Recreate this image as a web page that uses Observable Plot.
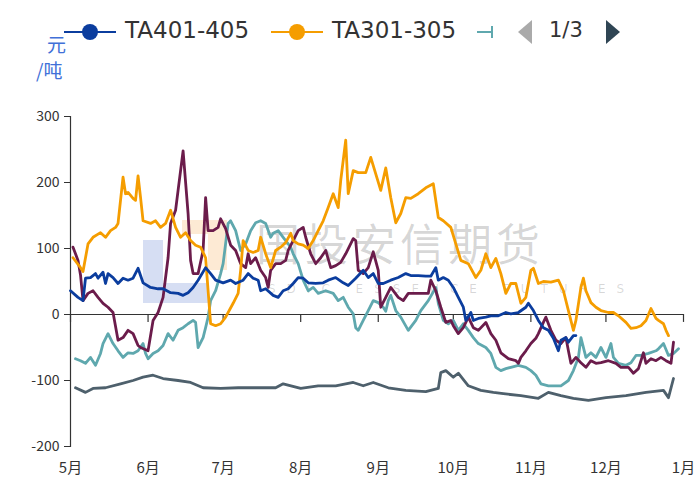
<!DOCTYPE html>
<html><head><meta charset="utf-8">
<script src="https://cdn.jsdelivr.net/npm/d3@7"></script>
<script src="https://cdn.jsdelivr.net/npm/@observablehq/plot@0.6"></script>
<style>
body{margin:0;background:#fff;}
#wrap{position:relative;width:695px;height:482px;font-family:"Noto Sans CJK SC","DejaVu Sans",sans-serif;}
#wm,#legend,#unit{position:absolute;left:0;top:0;width:695px;}
#wrap div{white-space:nowrap;}
#chart{position:absolute;left:0;top:0;}
</style></head>
<body>
<div id="wrap">
  <div id="wm"></div>
  <div id="chart"></div>
  <div id="legend"></div>
  <div id="unit"></div>
</div>
<script>
// Season axis: day offsets from May 1, values in 元/吨
const seriesNames = ["TA401-405", "TA301-305", "TA201-205", "TA101-105", "TA001-005"];
const seriesColors = ["#0b3d9e", "#f59d00", "#5fa8ae", "#6b1c4b", "#4e606c"];
const yTicks = [-200, -100, 0, 100, 200, 300];
const monthLabels = ["5月","6月","7月","8月","9月","10月","11月","12月","1月"];

const ta401_405 = [[0,36],[3,26],[5,21],[6,55],[8,56],[10,62],[11,55],[13,64],[14,47],[15,62],[17,56],[19,47],[21,55],[23,52],[25,55],[27,70],[29,48],[32,41],[35,39],[37,39],[40,33],[43,32],[45,29],[47,33],[49,41],[51,52],[54,71],[56,62],[58,52],[61,48],[64,52],[66,47],[69,52],[71,62],[73,55],[75,52],[76,36],[78,39],[81,29],[83,26],[85,36],[87,39],[89,47],[91,56],[93,55],[95,48],[98,47],[101,48],[103,52],[106,56],[109,48],[111,44],[114,55],[117,67],[119,56],[121,62],[123,47],[125,47],[128,52],[131,56],[134,62],[136,59],[139,59],[142,58],[144,58],[146,71],[147,52],[149,56],[151,52],[153,41],[155,26],[157,11],[158,-9],[160,3],[161,-9],[163,-6],[166,-4],[168,-2],[171,-2],[174,3],[176,1],[179,3],[182,11],[183,17],[185,6],[187,-9],[189,-20],[191,-24],[193,-36],[195,-55],[196,-39],[198,-35],[199,-42],[201,-32],[202,-32]];

const ta301_305 = [[1,86],[4,71],[5,65],[7,107],[9,117],[12,124],[14,117],[16,127],[18,132],[19,138],[21,208],[22,183],[23,185],[25,176],[26,173],[27,210],[28,177],[29,142],[32,138],[34,142],[36,132],[38,138],[40,158],[42,132],[44,117],[46,124],[48,112],[50,105],[52,102],[54,86],[56,-14],[58,-17],[60,-14],[62,-4],[65,17],[67,32],[68,67],[69,112],[71,97],[73,94],[75,97],[76,117],[78,92],[80,71],[82,97],[84,102],[86,109],[88,123],[89,112],[91,107],[93,105],[95,100],[97,112],[99,127],[101,142],[103,162],[105,183],[107,162],[108,203],[110,264],[111,183],[113,218],[115,215],[118,215],[120,238],[122,213],[124,188],[126,222],[128,177],[130,139],[132,153],[134,177],[136,176],[139,183],[142,192],[145,198],[147,147],[149,142],[152,132],[154,107],[156,82],[159,77],[162,56],[164,67],[166,92],[168,71],[170,85],[172,62],[174,32],[176,47],[178,47],[180,17],[182,26],[184,67],[185,70],[187,47],[189,50],[192,49],[195,52],[197,36],[199,6],[201,-24],[202,-9],[204,41],[205,55],[206,36],[208,18],[210,11],[212,6],[215,3],[217,3],[219,-2],[222,-12],[224,-21],[226,-20],[228,-17],[230,-9],[232,9],[234,-6],[235,-9],[237,-14],[238,-24],[239,-32]];

const ta201_205 = [[2,-67],[4,-70],[6,-74],[8,-65],[10,-77],[12,-59],[13,-44],[15,-29],[17,-44],[19,-55],[21,-65],[23,-58],[25,-59],[27,-55],[29,-44],[30,-59],[31,-67],[33,-59],[35,-55],[37,-47],[39,-29],[41,-39],[43,-24],[45,-20],[47,-14],[49,-9],[50,-12],[51,-50],[53,-35],[54,-20],[55,-4],[56,21],[58,36],[60,62],[61,77],[63,138],[64,142],[66,127],[67,112],[68,97],[70,107],[72,127],[74,139],[76,142],[78,138],[80,117],[81,123],[83,127],[85,117],[87,107],[88,102],[89,92],[91,77],[93,52],[95,36],[97,41],[99,32],[102,36],[105,32],[107,21],[109,26],[111,11],[113,1],[114,-20],[115,-24],[117,-9],[119,6],[121,21],[123,18],[125,11],[126,5],[127,21],[128,29],[130,6],[132,-4],[135,-24],[138,-9],[140,6],[143,21],[146,41],[147,17],[149,-9],[151,-14],[153,-9],[155,-24],[157,-14],[159,-24],[161,-35],[163,-44],[166,-50],[168,-59],[170,-80],[172,-85],[174,-82],[176,-80],[179,-77],[182,-80],[184,-85],[186,-92],[188,-105],[191,-108],[194,-108],[196,-108],[199,-100],[201,-85],[203,-65],[204,-35],[206,-65],[208,-58],[210,-65],[212,-50],[214,-65],[216,-44],[217,-65],[219,-74],[222,-77],[224,-73],[226,-62],[228,-62],[231,-59],[234,-55],[235,-52],[237,-44],[239,-62],[241,-59],[243,-52]];

const ta101_105 = [[1,102],[3,82],[4,60],[5,21],[7,32],[9,36],[11,26],[13,17],[15,11],[17,3],[19,-39],[21,-35],[23,-24],[25,-29],[27,-47],[28,-50],[31,-55],[33,-9],[35,3],[37,26],[39,86],[40,138],[42,158],[43,188],[45,248],[47,153],[48,82],[49,62],[51,62],[53,97],[54,177],[55,127],[57,127],[59,132],[60,145],[62,130],[64,105],[66,97],[68,77],[70,71],[71,92],[72,77],[74,86],[76,67],[78,56],[79,41],[80,67],[82,77],[84,77],[86,82],[87,97],[89,112],[91,127],[93,132],[94,117],[96,92],[98,77],[100,86],[102,97],[104,71],[106,74],[108,79],[110,92],[113,115],[114,112],[115,67],[117,62],[119,71],[121,95],[123,67],[124,11],[126,26],[128,41],[131,26],[133,21],[135,32],[139,32],[143,32],[144,52],[146,36],[148,11],[150,-12],[152,-9],[153,-17],[155,-29],[157,-20],[159,-4],[161,-20],[163,-24],[166,-12],[168,-29],[170,-39],[172,-58],[175,-67],[178,-70],[179,-74],[180,-65],[182,-55],[184,-44],[186,-36],[187,-29],[189,-12],[190,-4],[192,-24],[194,-39],[196,-44],[198,-35],[199,-55],[200,-74],[202,-65],[204,-73],[206,-80],[208,-70],[210,-74],[212,-73],[215,-70],[218,-74],[220,-80],[223,-80],[225,-89],[227,-82],[229,-58],[230,-74],[232,-67],[234,-70],[236,-65],[238,-70],[240,-74],[241,-42]];

const ta001_005 = [[2,-111],[6,-118],[9,-112],[14,-111],[20,-105],[25,-100],[29,-95],[33,-92],[37,-97],[43,-100],[48,-103],[53,-111],[60,-112],[67,-111],[74,-111],[82,-111],[85,-105],[92,-112],[99,-108],[106,-108],[113,-103],[117,-108],[121,-103],[127,-111],[134,-115],[142,-117],[147,-112],[148,-88],[150,-85],[153,-95],[155,-89],[159,-108],[164,-115],[169,-118],[173,-120],[180,-123],[187,-127],[191,-118],[196,-123],[201,-127],[207,-130],[214,-126],[222,-123],[230,-118],[237,-115],[239,-126],[241,-97]];

const seriesData = [ta401_405, ta301_305, ta201_205, ta101_105, ta001_005];
const dayToDate = d => new Date(Date.UTC(2023, 4, 1 + d));
const rows = [];
seriesData.forEach((arr, i) => arr.forEach(([d, v]) => rows.push({date: dayToDate(d), value: v, series: seriesNames[i]})));
const months = monthLabels.map((_, i) => new Date(Date.UTC(2023, 4 + i, 1)));
const drawOrder = [4, 2, 3, 1, 0];

const chart = Plot.plot({
  width: 695, height: 482,
  marginTop: 116, marginBottom: 36, marginLeft: 70, marginRight: 12,
  style: {background: "transparent", fontFamily: '"Noto Sans CJK SC","DejaVu Sans",sans-serif', color: "#333"},
  x: {type: "utc", domain: [months[0], months[months.length - 1]]},
  y: {domain: [-200, 300]},
  color: {domain: seriesNames, range: seriesColors},
  marks: [
    Plot.ruleY([0], {stroke: "#333", strokeWidth: 1.2}),
    Plot.ruleX(months, {x: d => d, y1: 0, y2: -12, stroke: "#333", strokeWidth: 1.2}),
    Plot.frame({anchor: "left", stroke: "#333", strokeWidth: 1.2}),
    Plot.axisY({ticks: yTicks, tickSize: 6, tickPadding: 5, fontSize: 14, tickFormat: d => String(d), label: null, stroke: "#333"}),
    Plot.axisX({ticks: months, tickSize: 0, tickPadding: 16, fontSize: 15, tickFormat: (d, i) => monthLabels[i], label: null}),
    ...drawOrder.map(i => Plot.line(rows.filter(r => r.series === seriesNames[i]), {
      x: "date", y: "value", stroke: seriesColors[i], strokeWidth: 2.8, strokeLinejoin: "round"
    }))
  ]
});
document.getElementById("chart").appendChild(chart);

// watermark
document.getElementById("wm").innerHTML = `
<div style="position:absolute;left:143px;top:240px;width:20px;height:63px;background:rgba(70,105,200,0.22)"></div>
<div style="position:absolute;left:163px;top:283px;width:45px;height:20px;background:rgba(70,105,200,0.22)"></div>
<div style="position:absolute;left:182px;top:220px;width:45px;height:14px;background:rgba(245,160,60,0.22)"></div>
<div style="position:absolute;left:208px;top:234px;width:19px;height:36px;background:rgba(245,160,60,0.22)"></div>
<div style="position:absolute;left:256px;top:210px;font-size:44px;letter-spacing:4px;color:rgba(0,0,0,0.16);font-family:'Noto Sans CJK SC'">国投安信期货</div>
<div style="position:absolute;left:268px;top:282px;font-size:12px;letter-spacing:11px;color:rgba(0,0,0,0.16);font-family:'DejaVu Sans'">SDIC ESSENCE FUTURES</div>`;

// legend
const lg = document.getElementById("legend");
const sw = (x, c) => `<svg style="position:absolute;left:${x}px;top:20px" width="52" height="24"><line x1="0" y1="12" x2="52" y2="12" stroke="${c}" stroke-width="2"/><circle cx="26" cy="12" r="8" fill="${c}"/></svg>`;
lg.innerHTML = sw(64, seriesColors[0]) +
  `<div style="position:absolute;left:125px;top:17px;font-size:23px;color:#333;font-family:'DejaVu Sans'">${seriesNames[0]}</div>` +
  sw(271, seriesColors[1]) +
  `<div style="position:absolute;left:332px;top:17px;font-size:23px;color:#333;font-family:'DejaVu Sans'">${seriesNames[1]}</div>` +
  `<svg style="position:absolute;left:477px;top:20px" width="20" height="24"><line x1="0" y1="12" x2="16" y2="12" stroke="${seriesColors[2]}" stroke-width="2"/><line x1="15" y1="6" x2="15" y2="18" stroke="${seriesColors[2]}" stroke-width="2"/></svg>` +
  `<svg style="position:absolute;left:514px;top:18px" width="20" height="28"><polygon points="18,2 18,26 4,14" fill="#aaa"/></svg>` +
  `<div style="position:absolute;left:549px;top:18px;font-size:21px;color:#333;font-family:'DejaVu Sans'">1/3</div>` +
  `<svg style="position:absolute;left:604px;top:18px" width="20" height="28"><polygon points="2,2 2,26 16,14" fill="#2f4554"/></svg>`;

document.getElementById("unit").innerHTML =
  `<div style="position:absolute;left:47px;top:34px;font-size:19px;color:#4170d8;line-height:1">元</div>` +
  `<div style="position:absolute;left:36px;top:60px;font-size:19px;color:#4170d8;line-height:1">/吨</div>`;
</script>
</body></html>
